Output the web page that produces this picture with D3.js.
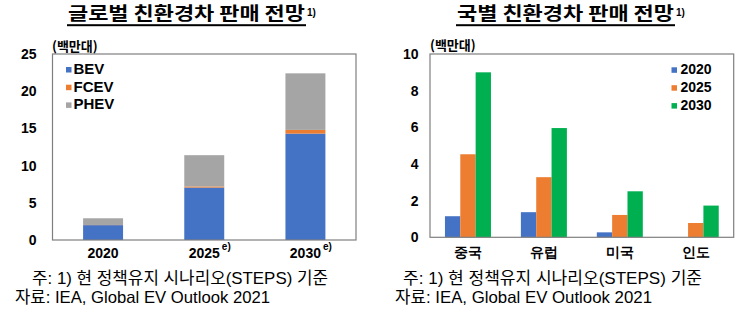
<!DOCTYPE html>
<html><head><meta charset="utf-8">
<script src="https://cdn.jsdelivr.net/npm/d3@7"></script>
<style>
html,body{margin:0;padding:0;background:#fff;}
svg{display:block;}
text{font-family:"Liberation Sans",Arial,sans-serif;}
.kr{font-family:"Noto Sans CJK KR","Noto Sans",sans-serif;}
.note{font-family:"Liberation Sans","Noto Sans CJK KR",sans-serif;}
</style></head>
<body>
<svg id="c" width="754" height="309"></svg>
<script>
// ---- Data ----
const years = ["2020", "2025", "2030"];
const yearSup = ["", "e)", "e)"];
const bev = [2.0, 7.05, 14.3];
const fcev = [0.02, 0.15, 0.5];
const phev = [0.9, 4.2, 7.6];
const globalTypes = ["BEV", "FCEV", "PHEV"];
const leftTicks = [0, 5, 10, 15, 20, 25];

const countries = ["중국", "유럽", "미국", "인도"];
const v2020 = [1.15, 1.37, 0.27, 0];
const v2025 = [4.53, 3.28, 1.22, 0.78];
const v2030 = [9.0, 5.96, 2.51, 1.73];
const countryYears = ["2020", "2025", "2030"];
const rightTicks = [0, 2, 4, 6, 8, 10];

const leftTitle = "글로벌 친환경차 판매 전망";
const rightTitle = "국별 친환경차 판매 전망";
const unitLabel = "(백만대)";
const note1 = "주: 1) 현 정책유지 시나리오(STEPS) 기준";
const note2 = "자료: IEA, Global EV Outlook 2021";

const typeColors = ["#4472C4", "#ED7D31", "#A5A5A5"];
const yearColors = ["#4472C4", "#ED7D31", "#00B050"];

const svg = d3.select("#c");

function title(x0, width, text, baseline) {
  svg.append("text").attr("class","kr").attr("x", x0).attr("y", baseline)
    .attr("font-size", 18).attr("font-weight", 700).attr("fill", "#000")
    .attr("textLength", width).attr("lengthAdjust", "spacingAndGlyphs").text(text);
  svg.append("rect").attr("x", x0 - 1).attr("y", 24.2).attr("width", width + 2).attr("height", 2).attr("fill", "#000");
  svg.append("text").attr("x", x0 + width + 2).attr("y", 15.5).attr("font-size", 10).attr("font-weight", 700).text("1)");
}
title(68, 237, leftTitle, 20);
title(457, 217, rightTitle, 20);

// ---- Left chart ----
const L = {l: 52.5, r: 356, t: 54, b: 240};
const xL = d3.scaleBand().domain(years).range([L.l, L.r]).paddingInner(0.605).paddingOuter(0.3025);
const yL = d3.scaleLinear().domain([0, 25]).range([L.b, L.t]);
const stackData = years.map((y, i) => ({year: y, BEV: bev[i], FCEV: fcev[i], PHEV: phev[i]}));
const stacked = d3.stack().keys(globalTypes)(stackData);
const gL = svg.append("g");
stacked.forEach((s, si) => {
  gL.selectAll(null).data(s).enter().append("rect")
    .attr("x", d => xL(d.data.year)).attr("width", xL.bandwidth())
    .attr("y", d => yL(d[1])).attr("height", d => Math.max(0, yL(d[0]) - yL(d[1])))
    .attr("fill", typeColors[si]);
});
svg.append("rect").attr("x", L.l).attr("y", L.t).attr("width", L.r - L.l).attr("height", L.b - L.t)
  .attr("fill", "none").attr("stroke", "#7f7f7f").attr("stroke-width", 1.2);
const axL = svg.append("g").attr("transform", `translate(${L.l},0)`)
  .call(d3.axisLeft(yL).tickValues(leftTicks).tickSize(0).tickPadding(16));
axL.select(".domain").remove();
axL.selectAll("text").attr("font-size", 14).attr("font-weight", 700).attr("fill", "#000")
  .attr("font-family", "Liberation Sans, Arial, sans-serif");
const axLx = svg.append("g").attr("transform", `translate(0,${L.b})`)
  .call(d3.axisBottom(xL).tickSize(0).tickPadding(0));
axLx.select(".domain").remove();
axLx.selectAll("text").attr("font-size", 14).attr("font-weight", 700).attr("fill", "#000")
  .attr("dy", null).attr("y", 18.3).attr("font-family", "Liberation Sans, Arial, sans-serif")
  .each(function(d, i) {
    if (!yearSup[i]) return;
    const w = this.getComputedTextLength();
    d3.select(this.parentNode).append("text").attr("x", w / 2 + 2).attr("y", 10)
      .attr("text-anchor", "start").attr("font-size", 10).attr("font-weight", 700).attr("fill", "#000")
      .attr("font-family", "Liberation Sans, Arial, sans-serif").text(yearSup[i]);
  });
svg.append("text").attr("class","kr").attr("x", 52).attr("y", 51).attr("font-size", 13).attr("font-weight", 700).text(unitLabel);
// legend left
globalTypes.forEach((k, i) => {
  const y = 74 + i * 17.7;
  svg.append("rect").attr("x", 66).attr("y", y - 7).attr("width", 5.5).attr("height", 5.5).attr("fill", typeColors[i]);
  svg.append("text").attr("x", 73.5).attr("y", y).attr("font-size", 15).attr("font-weight", 700).text(k);
});

// ---- Right chart ----
const R = {l: 430, r: 733.7, t: 54, b: 237.3};
const xR = d3.scaleBand().domain(countries).range([R.l, R.r]).paddingInner(0.394).paddingOuter(0.197);
const xR2 = d3.scaleBand().domain(countryYears).range([0, xR.bandwidth()]);
const yR = d3.scaleLinear().domain([0, 10]).range([R.b, R.t]);
const series = [v2020, v2025, v2030];
const gR = svg.append("g");
countries.forEach((c, ci) => {
  countryYears.forEach((yy, si) => {
    const v = series[si][ci];
    if (v <= 0) return;
    gR.append("rect").attr("x", xR(c) + xR2(yy)).attr("width", xR2.bandwidth())
      .attr("y", yR(v)).attr("height", yR(0) - yR(v)).attr("fill", yearColors[si]);
  });
});
svg.append("rect").attr("x", R.l).attr("y", R.t).attr("width", R.r - R.l).attr("height", R.b - R.t)
  .attr("fill", "none").attr("stroke", "#7f7f7f").attr("stroke-width", 1.2);
const axR = svg.append("g").attr("transform", `translate(${R.l},0)`)
  .call(d3.axisLeft(yR).tickValues(rightTicks).tickSize(0).tickPadding(11.5));
axR.select(".domain").remove();
axR.selectAll("text").attr("font-size", 14).attr("font-weight", 700).attr("fill", "#000")
  .attr("font-family", "Liberation Sans, Arial, sans-serif");
const axRx = svg.append("g").attr("transform", `translate(0,${R.b})`)
  .call(d3.axisBottom(xR).tickSize(0).tickPadding(0));
axRx.select(".domain").remove();
axRx.selectAll("text").attr("font-size", 14).attr("font-weight", 700).attr("fill", "#000")
  .attr("dy", null).attr("y", 19.5).attr("font-family", "Noto Sans CJK KR, sans-serif");
svg.append("text").attr("class","kr").attr("x", 430).attr("y", 50).attr("font-size", 13).attr("font-weight", 700).text(unitLabel);
countryYears.forEach((k, i) => {
  const y = 74.3 + i * 17.9;
  svg.append("rect").attr("x", 671.5).attr("y", y - 7).attr("width", 5.5).attr("height", 5.5).attr("fill", yearColors[i]);
  svg.append("text").attr("x", 680.5).attr("y", y).attr("font-size", 14).attr("font-weight", 700).text(k);
});

// ---- Footnotes ----
function note(x, y, w, t) {
  svg.append("text").attr("class","note").attr("x", x).attr("y", y).attr("font-size", 16.5)
    .attr("fill", "#000").attr("textLength", w).attr("lengthAdjust", "spacingAndGlyphs").text(t);
}
note(32, 284, 296, note1);
note(15, 303, 255, note2);
note(403, 283.5, 299, note1);
note(395, 302.7, 257, note2);
</script>
</body></html>
